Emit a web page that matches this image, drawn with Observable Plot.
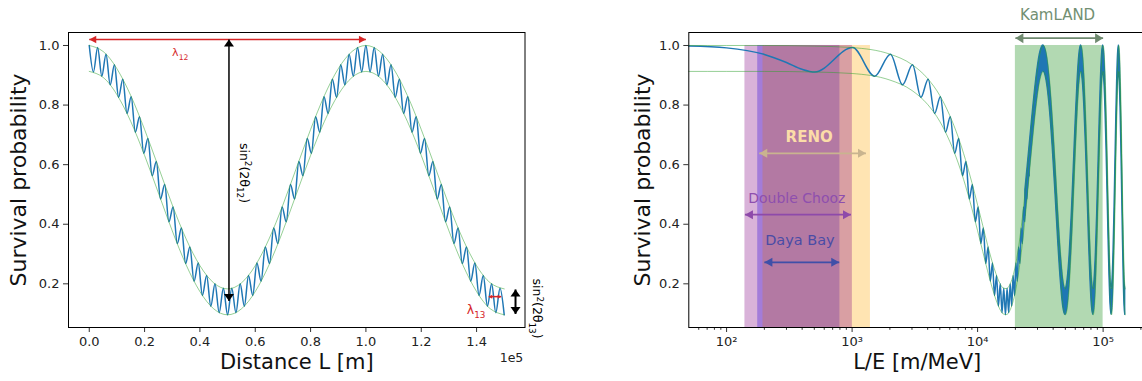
<!DOCTYPE html>
<html><head><meta charset="utf-8">
<script src="https://cdn.jsdelivr.net/npm/d3@7"></script>
<script src="https://cdn.jsdelivr.net/npm/@observablehq/plot@0.6"></script>
<style>
html,body{margin:0;padding:0;background:#fff;}
#wrap{position:relative;width:1142px;height:381px;overflow:hidden;background:#fff;}
#left,#right{position:absolute;top:0;height:381px;}
#left{left:0;width:571px;} #right{left:571px;width:600px;}
#wrap svg{max-width:none !important;}
</style></head>
<body><div id="wrap"><div id="left"></div><div id="right"></div></div>
<script>
// ---------------- DATA ----------------
// Left panel: survival probability vs distance L [m] (extrema of the fast oscillation)
const leftL = [0,1515,3030,4545,6060,7575,9090,10605,12120,13635,15150,16665,18180,19695,21210,22725,24240,25755,27270,28785,30300,31815,33330,34845,36360,37875,39390,40905,42420,43935,45450,46965,48480,49995,51510,53025,54540,56055,57570,59085,60600,62115,63630,65145,66660,68175,69690,71205,72720,74235,75750,77265,78780,80295,81810,83325,84840,86355,87870,89385,90900,92415,93930,95445,96960,98475,99990,101505,103020,104535,106050,107565,109080,110595,112110,113625,115140,116655,118170,119685,121200,122715,124230,125745,127260,128775,130290,131805,133320,134835,136350,137865,139380,140895,142410,143925,145440,146955,148470,149985];
const leftP = [1.000,0.911,0.993,0.897,0.971,0.868,0.935,0.826,0.887,0.772,
 0.828,0.709,0.761,0.638,0.688,0.563,0.611,0.485,0.533,0.408,
 0.458,0.335,0.387,0.268,0.324,0.209,0.270,0.161,0.228,0.125,
 0.200,0.103,0.185,0.096,0.185,0.103,0.200,0.125,0.228,0.161,
 0.270,0.209,0.324,0.268,0.387,0.335,0.458,0.408,0.533,0.485,
 0.611,0.563,0.688,0.638,0.761,0.709,0.828,0.772,0.887,0.826,
 0.935,0.868,0.971,0.897,0.993,0.911,1.000,0.911,0.993,0.897,
 0.971,0.868,0.935,0.826,0.887,0.772,0.828,0.709,0.761,0.638,
 0.688,0.563,0.611,0.485,0.533,0.408,0.458,0.335,0.387,0.268,
 0.324,0.209,0.270,0.161,0.228,0.125,0.200,0.103,0.185,0.096];
// Left panel envelopes (green)
const leftEnvL = [0,5000,10000,15000,20000,25000,30000,35000,40000,45000,50000,55000,60000,65000,70000,75000,80000,85000,90000,95000,100000,105000,110000,115000,120000,125000,130000,135000,140000,145000,150000];
const leftEnvUpper = [1.000,0.980,0.922,0.832,0.718,0.592,0.465,0.351,0.261,0.203,0.183,0.203,0.261,0.351,0.465,0.592,0.718,0.832,0.922,0.980,1.000,0.980,0.922,0.832,0.718,0.592,0.465,0.351,0.261,0.203,0.183];
const leftEnvLower = [0.913,0.893,0.835,0.745,0.631,0.505,0.378,0.264,0.174,0.116,0.096,0.116,0.174,0.264,0.378,0.505,0.631,0.745,0.835,0.893,0.913,0.893,0.835,0.745,0.631,0.505,0.378,0.264,0.174,0.116,0.096];
const leftTicks = [0,20000,40000,60000,80000,100000,120000,140000];
const leftTickLabels = ["0.0","0.2","0.4","0.6","0.8","1.0","1.2","1.4"];
const yTicks = [0.2,0.4,0.6,0.8,1.0];
const yTickLabels = ["0.2","0.4","0.6","0.8","1.0"];

// Right panel: survival probability vs L/E [m/MeV]
const rightLE = [50,100,200,300,400,505,1010,1515,2020,2525,3030,3535,4040,4545,5050,5555,6060,6565,7070,7575,8080,8585,9090,9595,10100,10605,11110,11615,12120,12625,13130,13635,14140,14645,15150,15655,16160,16665,17170,17675,18180,18685,19190,19695,20200,20705,21210,21715,22220,22725,23230,23735,24240,24745,25250,25755];
const rightP = [0.998,0.992,0.970,0.943,0.920,
 0.911,0.993,0.897,0.971,0.868,0.935,0.826,0.887,0.772,0.828,
 0.709,0.761,0.638,0.688,0.563,0.611,0.485,0.533,0.408,0.458,
 0.335,0.387,0.268,0.324,0.209,0.270,0.161,0.228,0.125,0.200,
 0.103,0.185,0.096,0.185,0.103,0.200,0.125,0.228,0.161,0.270,
 0.209,0.324,0.268,0.387,0.335,0.458,0.408,0.533,0.485,0.611,
 0.563];
const rightEnvLE = [50,100,200,500,1000,2000,3000,4000,5000,6000,7000,8000,9000,10000,11000,12000,13000,14000,15000,16000,17000,18000,19000,20000,22000,24000,
 25000,27083,29167,31250,33333,35417,37500,39583,41667,43750,45833,47917,50000,52083,54167,56250,58333,60417,62500,64583,66667,68750,70833,72917,75000,77083,79167,81250,83333,85417,87500,89583,91667,93750,95833,97917,100000,102083,104167,106250,108333,110417,112500,114583,116667,118750,120833,122917,125000,127083,129167,131250,133333,135417,137500,139583,141667,143750,145833,147917,150000];
const rightEnvUpper = [1.000,1.000,1.000,0.998,0.993,0.971,0.936,0.889,0.832,0.765,0.693,0.617,0.540,0.465,0.395,0.331,0.277,0.234,0.203,0.186,0.184,0.196,0.222,0.261,0.373,0.515,
 0.592,0.748,0.880,0.969,1.000,0.969,0.880,0.748,0.592,0.435,0.303,0.214,0.183,
 0.214,0.303,0.435,0.592,0.748,0.880,0.969,1.000,0.969,0.880,0.748,0.592,0.435,0.303,0.214,0.183,
 0.214,0.303,0.435,0.592,0.748,0.880,0.969,1.000,0.969,0.880,0.748,0.592,0.435,0.303,0.214,0.183,
 0.214,0.303,0.435,0.592,0.748,0.880,0.969,1.000,0.969,0.880,0.748,0.592,0.435,0.303,0.214,0.183];
const rightEnvLower = [0.913,0.913,0.913,0.911,0.906,0.884,0.849,0.802,0.745,0.678,0.606,0.530,0.453,0.378,0.308,0.244,0.190,0.147,0.116,0.099,0.097,0.109,0.135,0.174,0.286,0.428,
 0.505,0.661,0.793,0.882,0.913,0.882,0.793,0.661,0.505,0.348,0.216,0.127,0.096,
 0.127,0.216,0.348,0.505,0.661,0.793,0.882,0.913,0.882,0.793,0.661,0.505,0.348,0.216,0.127,0.096,
 0.127,0.216,0.348,0.505,0.661,0.793,0.882,0.913,0.882,0.793,0.661,0.505,0.348,0.216,0.127,0.096,
 0.127,0.216,0.348,0.505,0.661,0.793,0.882,0.913,0.882,0.793,0.661,0.505,0.348,0.216,0.127,0.096];
const denseFrom = 24000; // beyond this L/E the fast oscillation is unresolved (fills the envelope)
const rightTicks = [100,1000,10000,100000];
const rightTickLabels = ["10²","10³","10⁴","10⁵"];
const rightMinorTicks = [60,70,80,90,200,300,400,500,600,700,800,900,2000,3000,4000,5000,6000,7000,8000,9000,20000,30000,40000,50000,60000,70000,80000,90000,200000,300000];

// Experiments: L/E ranges
const experiments = ["Daya Bay","RENO","Double Chooz","KamLAND"];
const expFrom = [177,195,140,20000];
const expTo = [800,1400,1005,100000];
const expColor = ["blue","orange","purple","green"];

// ---------------- helpers ----------------
const FONT = "DejaVu Sans, Liberation Sans, sans-serif";
const yDomain = [0.0534, 1.0436];
const head = (len, wid) => ({draw(ctx){ctx.moveTo(0,0);ctx.lineTo(-len,-wid/2);ctx.lineTo(-len,wid/2);ctx.closePath();}});

function hArrow(a, color, width, len, wid) {
  return [
    Plot.link([a], {x1:"x1", x2:"x2", y1:"y", y2:"y", stroke: color, strokeWidth: width}),
    Plot.dot([a], {x:"x1", y:"y", symbol: head(len,wid), rotate:180, fill: color, r: 3}),
    Plot.dot([a], {x:"x2", y:"y", symbol: head(len,wid), rotate:0, fill: color, r: 3})
  ];
}
function vArrow(a, color, width, len, wid) {
  return [
    Plot.link([a], {x1:"x", x2:"x", y1:"y1", y2:"y2", stroke: color, strokeWidth: width}),
    Plot.dot([a], {x:"x", y:"y1", symbol: head(len,wid), rotate:-90, fill: color, r: 3}),
    Plot.dot([a], {x:"x", y:"y2", symbol: head(len,wid), rotate:90, fill: color, r: 3})
  ];
}
// rich text: sub/superscripts via tspans
const rich = {
  "λ12": {fs: 11, segs: [["λ",""],["12","sub"]]},
  "λ13": {fs: 12.5, segs: [["λ",""],["13","sub"]]},
  "sin2(2θ12)": {fs: 12.5, segs: [["sin",""],["2","sup"],["(2θ",""],["12","sub"],[")",""]]},
  "sin2(2θ13)": {fs: 12.5, segs: [["sin",""],["2","sup"],["(2θ",""],["13","sub"],[")",""]]}
};
function applyRich(svg) {
  d3.select(svg).selectAll("text").each(function() {
    const key = this.textContent;
    const r = rich[key];
    if (!r) return;
    const t = d3.select(this);
    t.text(null);
    let off = 0;
    for (const [s, kind] of r.segs) {
      const target = kind === "sub" ? 0.28 * r.fs : kind === "sup" ? -0.38 * r.fs : 0;
      const sp = t.append("tspan").text(s).attr("dy", (target - off).toFixed(2));
      if (kind) sp.attr("font-size", (0.7 * r.fs).toFixed(1));
      off = target;
    }
  });
}
const styleBase = {fontFamily: FONT, fontSize: "13px", color: "#222", background: "transparent", overflow: "visible", maxWidth: "none"};

// ---------------- LEFT PANEL ----------------
const leftRows = leftL.map((x, i) => ({x, p: leftP[i]}));
const leftEnv = leftEnvL.map((x, i) => ({x, up: leftEnvUpper[i], lo: leftEnvLower[i]}));
const leftPlot = Plot.plot({
  width: 571, height: 381,
  marginLeft: 68, marginRight: 46.5, marginTop: 32, marginBottom: 54,
  x: {domain: [-7500, 157500]},
  y: {domain: yDomain},
  style: styleBase,
  marks: [
    Plot.line(leftRows, {x: "x", y: "p", stroke: "#1f77b4", strokeWidth: 1.5, curve: "monotone-x"}),
    Plot.line(leftEnv, {x: "x", y: "up", stroke: "#2ca02c", strokeOpacity: 0.5, strokeWidth: 1, curve: "natural"}),
    Plot.line(leftEnv, {x: "x", y: "lo", stroke: "#2ca02c", strokeOpacity: 0.5, strokeWidth: 1, curve: "natural"}),
    ...hArrow({x1: 0, x2: 100000, y: 1.02}, "#d62728", 1.5, 7, 7.5),
    ...vArrow({x: 50500, y1: 1.02, y2: 0.142}, "#000", 1.5, 7, 10),
    ...hArrow({x1: 144400, x2: 148900, y: 0.157}, "#d62728", 1.5, 3.5, 4),
    ...vArrow({x: 154070, y1: 0.181, y2: 0.099}, "#000", 2, 7, 10),
    Plot.text(["λ12"], {x: 32900, y: 0.975, fill: "#d62728", fontSize: 11, text: d => d}),
    Plot.text(["λ13"], {x: 139800, y: 0.112, fill: "#d62728", fontSize: 12.5, text: d => d}),
    Plot.text(["sin2(2θ12)"], {x: 56060, y: 0.572, rotate: 90, fill: "#000", fontSize: 12.5, text: d => d}),
    Plot.text(["sin2(2θ13)"], {x: 161700, y: 0.117, rotate: 90, fill: "#000", fontSize: 12.5, text: d => d}),
    Plot.axisX({ticks: leftTicks, tickFormat: d => leftTickLabels[leftTicks.indexOf(d)], tickSize: 5, tickPadding: 4, label: null, stroke: "#333"}),
    Plot.axisY({ticks: yTicks, tickFormat: d => yTickLabels[yTicks.indexOf(d)], tickSize: 5, tickPadding: 4, label: null, stroke: "#333"}),
    Plot.text(["1e5"], {frameAnchor: "bottom-right", dx: -13.5, dy: 34, fontSize: 12.5, fill: "#222", textAnchor: "middle", text: d => d}),
    Plot.text(["Survival probability"], {frameAnchor: "left", dx: -50, rotate: -90, textAnchor: "middle", fontSize: 22, fill: "#111", text: d => d}),
    Plot.text(["Distance L [m]"], {frameAnchor: "bottom", dy: 41, fontSize: 21, fill: "#111", text: d => d}),
    Plot.frame({stroke: "#000", strokeWidth: 1})
  ]
});
applyRich(leftPlot);
document.getElementById("left").appendChild(leftPlot);

// ---------------- RIGHT PANEL ----------------
const rightRows = rightLE.map((x, i) => ({x, p: rightP[i]}));
const rightEnv = rightEnvLE.map((x, i) => ({x, up: rightEnvUpper[i], lo: rightEnvLower[i]}));
const denseBand = rightEnv.filter(d => d.x >= denseFrom);
const spans = experiments.map((name, i) => ({name, x1: expFrom[i], x2: expTo[i], color: expColor[i]}));
const rightPlot = Plot.plot({
  width: 600, height: 381,
  marginLeft: 117.3, marginRight: 8.5, marginTop: 32, marginBottom: 54,
  x: {type: "log", domain: [50, 300000]},
  y: {domain: yDomain},
  style: styleBase,
  marks: [
    Plot.rect(spans, {x1: "x1", x2: "x2", y1: 0, y2: 1, fill: "color", fillOpacity: 0.3, clip: true}),
    Plot.areaY(denseBand, {x: "x", y1: "lo", y2: "up", fill: "#1f77b4", stroke: "#1f77b4", strokeWidth: 1.3, curve: "monotone-x"}),
    Plot.line(rightRows, {x: "x", y: "p", stroke: "#1f77b4", strokeWidth: 1.5, curve: "monotone-x"}),
    Plot.line(rightEnv, {x: "x", y: "up", stroke: "#2ca02c", strokeOpacity: 0.5, strokeWidth: 1, curve: "monotone-x"}),
    Plot.line(rightEnv, {x: "x", y: "lo", stroke: "#2ca02c", strokeOpacity: 0.5, strokeWidth: 1, curve: "monotone-x"}),
    ...hArrow({x1: 20000, x2: 100000, y: 1.0245}, "#6f8a6f", 1.8, 8, 10),
    ...hArrow({x1: 182, x2: 1290, y: 0.638}, "#c9b48f", 1.8, 8, 9),
    ...hArrow({x1: 140, x2: 980, y: 0.432}, "#8e4aaa", 1.8, 8, 9),
    ...hArrow({x1: 200, x2: 790, y: 0.272}, "#3f4fa8", 1.8, 8, 9),
    Plot.text(["KamLAND"], {x: 43400, y: 1.1007, fill: "#728f72", fontSize: 15, text: d => d}),
    Plot.text(["RENO"], {x: 455, y: 0.692, fill: "#fbdca8", fontSize: 15, fontWeight: "bold", text: d => d}),
    Plot.text(["Double Chooz"], {x: 363, y: 0.486, fill: "#8e4fae", fontSize: 14, text: d => d}),
    Plot.text(["Daya Bay"], {x: 384, y: 0.346, fill: "#4a4ca6", fontSize: 14.5, text: d => d}),
    Plot.axisX({ticks: rightMinorTicks, tickFormat: () => "", tickSize: 2.8, label: null, stroke: "#333"}),
    Plot.axisX({ticks: rightTicks, tickFormat: d => rightTickLabels[rightTicks.indexOf(d)], tickSize: 5, tickPadding: 4, label: null, stroke: "#333"}),
    Plot.axisY({ticks: yTicks, tickFormat: d => yTickLabels[yTicks.indexOf(d)], tickSize: 5, tickPadding: 4, label: null, stroke: "#333"}),
    Plot.text(["Survival probability"], {frameAnchor: "left", dx: -46.3, rotate: -90, textAnchor: "middle", fontSize: 22, fill: "#111", text: d => d}),
    Plot.text(["L/E [m/MeV]"], {x: 3300, frameAnchor: "bottom", dy: 41, fontSize: 21, fill: "#111", text: d => d}),
    Plot.frame({stroke: "#000", strokeWidth: 1})
  ]
});
applyRich(rightPlot);
document.getElementById("right").appendChild(rightPlot);
</script>
</body></html>
